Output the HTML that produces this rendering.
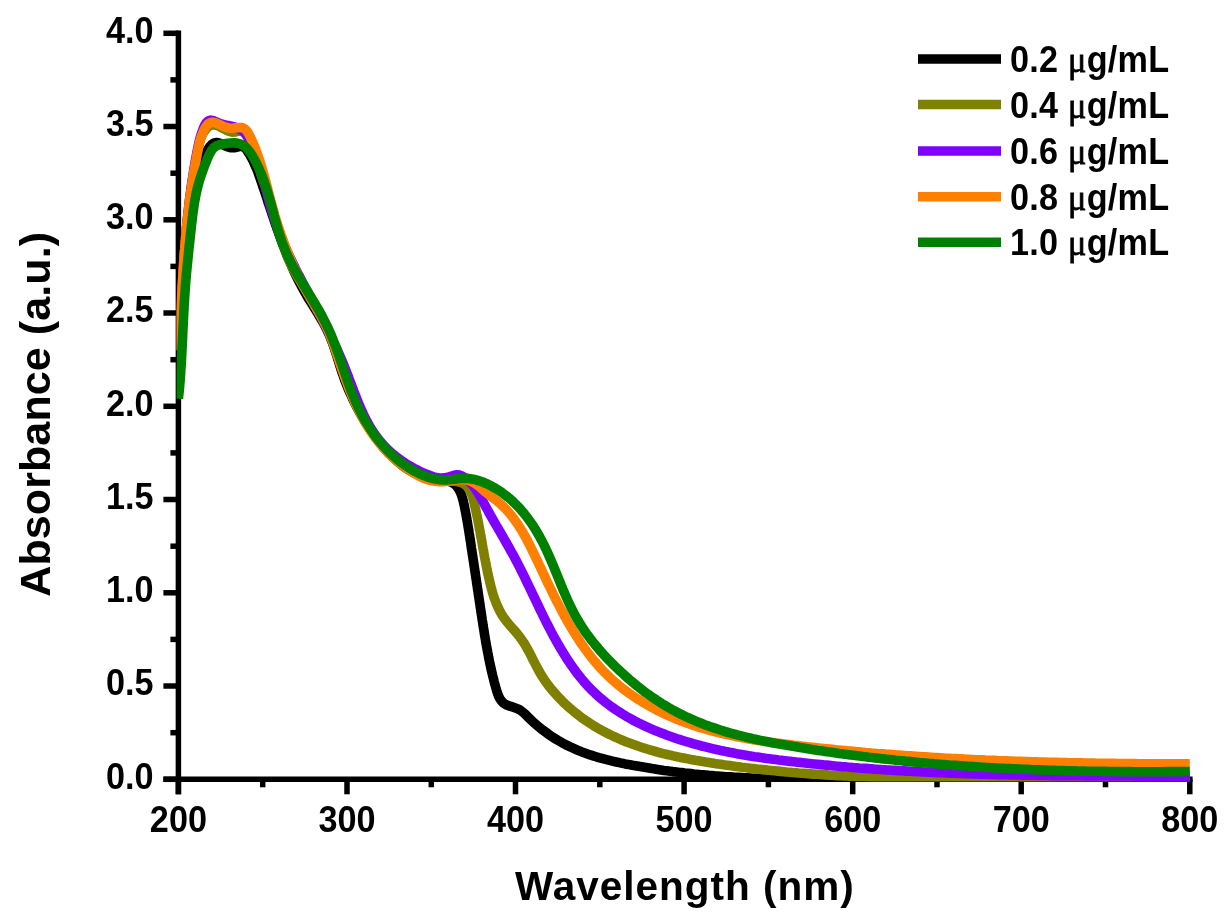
<!DOCTYPE html>
<html><head><meta charset="utf-8"><title>UV-Vis absorbance</title>
<style>html,body{margin:0;padding:0;background:#fff;}svg{display:block;filter:blur(0.55px);}</style></head>
<body>
<svg width="1231" height="922" viewBox="0 0 1231 922">
<defs><clipPath id="cp"><rect x="176.6" y="0" width="1013.4" height="781.4"/></clipPath></defs>
<g stroke="#000" stroke-width="5.5" fill="none" stroke-linecap="butt">
<path d="M178.4,30.5 V794.3"/>
<path d="M163.4,779.3 H1192.6"/>
<path d="M163.4,779.3 H178.4"/>
<path d="M163.4,686.0 H178.4"/>
<path d="M163.4,592.8 H178.4"/>
<path d="M163.4,499.5 H178.4"/>
<path d="M163.4,406.3 H178.4"/>
<path d="M163.4,313.0 H178.4"/>
<path d="M163.4,219.8 H178.4"/>
<path d="M163.4,126.5 H178.4"/>
<path d="M163.4,33.3 H178.4"/>
<path d="M170.4,732.7 H178.4"/>
<path d="M170.4,639.4 H178.4"/>
<path d="M170.4,546.2 H178.4"/>
<path d="M170.4,452.9 H178.4"/>
<path d="M170.4,359.7 H178.4"/>
<path d="M170.4,266.4 H178.4"/>
<path d="M170.4,173.2 H178.4"/>
<path d="M170.4,79.9 H178.4"/>
<path d="M178.4,779.3 V794.3"/>
<path d="M347.0,779.3 V794.3"/>
<path d="M515.5,779.3 V794.3"/>
<path d="M684.1,779.3 V794.3"/>
<path d="M852.7,779.3 V794.3"/>
<path d="M1021.2,779.3 V794.3"/>
<path d="M1189.8,779.3 V794.3"/>
<path d="M262.7,779.3 V787.3"/>
<path d="M431.3,779.3 V787.3"/>
<path d="M599.8,779.3 V787.3"/>
<path d="M768.4,779.3 V787.3"/>
<path d="M937.0,779.3 V787.3"/>
<path d="M1105.5,779.3 V787.3"/>
</g>
<g clip-path="url(#cp)" fill="none" stroke-width="9.6" stroke-linejoin="round" stroke-linecap="butt">
<path stroke="#000000" d="M178.4,369.0L178.5,366.0 178.7,363.0 178.8,360.0 178.9,357.0 179.1,354.0 179.2,351.0 179.3,347.9 179.5,344.9 179.6,341.9 179.8,338.9 180.0,335.9 180.1,332.9 180.3,329.9 180.5,326.9 180.6,323.9 180.8,320.9 181.0,317.9 181.2,314.9 181.4,311.9 181.6,308.9 181.8,305.9 182.0,302.9 182.2,299.9 182.4,296.9 182.6,293.9 182.8,290.9 183.1,287.9 183.3,284.9 183.5,281.9 183.8,279.0 184.0,276.0 184.3,273.0 184.5,270.0 184.8,267.0 185.0,264.0 185.3,261.0 185.6,258.0 185.9,255.0 186.1,252.0 186.4,249.0 186.7,246.0 187.0,243.0 187.3,240.0 187.6,237.0 187.9,234.0 188.3,231.0 188.6,228.0 188.9,225.0 189.3,222.0 189.6,219.0 190.0,216.0 190.4,213.1 190.8,210.1 191.2,207.1 191.7,204.1 192.1,201.2 192.6,198.2 193.2,195.2 193.7,192.3 194.3,189.4 195.0,186.4 195.6,183.5 196.3,180.6 197.1,177.7 197.9,174.8 198.7,171.9 199.6,169.1 200.6,166.2 201.6,163.4 202.6,160.6 203.7,157.8 204.9,155.0 206.3,152.2 207.8,149.5 209.7,146.8 211.8,144.5 214.1,142.9 216.8,142.5 219.6,143.2 222.5,144.5 225.4,146.0 228.3,147.1 231.2,147.8 234.2,147.7 237.3,147.0 240.3,146.3 243.0,146.5 245.2,148.1 247.0,150.4 248.7,153.0 250.3,155.6 251.8,158.3 253.1,161.0 254.4,163.8 255.6,166.5 256.8,169.3 257.9,172.1 258.9,174.9 259.9,177.8 260.9,180.6 261.9,183.5 262.8,186.3 263.8,189.2 264.8,192.0 265.7,194.9 266.7,197.7 267.6,200.6 268.5,203.5 269.5,206.3 270.4,209.2 271.4,212.0 272.3,214.9 273.3,217.7 274.3,220.6 275.2,223.4 276.2,226.3 277.2,229.1 278.2,231.9 279.2,234.8 280.2,237.6 281.3,240.4 282.3,243.2 283.4,246.0 284.5,248.8 285.6,251.6 286.7,254.4 287.8,257.2 289.0,259.9 290.2,262.7 291.4,265.4 292.6,268.2 293.8,270.9 295.1,273.6 296.4,276.3 297.7,279.0 299.1,281.6 300.5,284.3 301.9,286.9 303.3,289.6 304.8,292.2 306.3,294.8 307.8,297.4 309.4,300.0 311.0,302.5 312.6,305.1 314.2,307.7 315.8,310.2 317.4,312.8 318.9,315.4 320.5,318.0 322.0,320.6 323.5,323.2 324.9,325.8 326.3,328.5 327.6,331.2 328.8,333.9 330.0,336.6 331.1,339.4 332.2,342.2 333.2,345.0 334.2,347.8 335.1,350.7 336.1,353.5 337.0,356.4 337.9,359.3 338.8,362.2 339.7,365.1 340.6,367.9 341.5,370.8 342.5,373.7 343.5,376.5 344.5,379.4 345.6,382.2 346.7,385.0 347.8,387.8 349.0,390.6 350.2,393.3 351.5,396.1 352.7,398.8 354.0,401.6 355.4,404.3 356.8,406.9 358.2,409.6 359.6,412.3 361.1,414.9 362.6,417.5 364.1,420.1 365.7,422.6 367.4,425.2 369.0,427.7 370.7,430.2 372.4,432.6 374.2,435.1 376.0,437.5 377.8,439.9 379.7,442.2 381.5,444.5 383.5,446.8 385.5,449.1 387.5,451.4 389.5,453.6 391.6,455.7 393.7,457.8 395.9,459.9 398.1,461.9 400.4,463.8 402.7,465.6 405.1,467.4 407.5,469.0 410.0,470.6 412.6,472.0 415.3,473.4 418.0,474.5 420.8,475.6 423.7,476.5 426.7,477.3 429.8,477.9 432.9,478.4 436.1,478.8 439.2,479.2 442.3,479.6 445.3,480.2 448.1,480.9 450.7,481.9 453.1,483.2 455.3,484.8 457.1,486.7 458.7,489.0 460.1,491.6 461.2,494.3 462.2,497.3 463.1,500.4 463.8,503.5 464.5,506.6 465.1,509.8 465.7,512.9 466.3,515.9 466.8,518.9 467.3,521.8 467.8,524.8 468.3,527.7 468.8,530.6 469.2,533.5 469.7,536.4 470.1,539.3 470.6,542.2 471.0,545.1 471.4,548.0 471.9,550.9 472.3,553.9 472.8,556.8 473.2,559.8 473.7,562.8 474.1,565.8 474.6,568.8 475.0,571.8 475.5,574.8 475.9,577.8 476.4,580.8 476.8,583.8 477.3,586.8 477.7,589.8 478.2,592.8 478.6,595.8 479.1,598.8 479.5,601.8 480.0,604.8 480.4,607.8 480.9,610.8 481.3,613.8 481.8,616.8 482.2,619.7 482.7,622.7 483.1,625.6 483.6,628.5 484.1,631.5 484.5,634.4 485.0,637.3 485.5,640.2 486.0,643.1 486.5,646.0 487.1,649.0 487.6,651.9 488.2,654.8 488.7,657.7 489.3,660.6 489.9,663.6 490.6,666.5 491.2,669.5 491.9,672.4 492.6,675.4 493.4,678.4 494.1,681.4 494.9,684.4 495.8,687.5 496.6,690.5 497.6,693.5 498.7,696.4 500.1,699.0 501.7,701.3 503.7,703.2 506.1,704.7 508.8,705.8 511.7,706.7 514.7,707.7 517.5,708.7 520.1,710.1 522.5,711.8 524.7,713.8 526.8,715.8 529.0,718.0 531.1,720.0 533.3,722.1 535.6,724.1 537.9,726.1 540.2,728.0 542.6,729.9 545.0,731.7 547.5,733.5 549.9,735.3 552.5,737.0 555.0,738.6 557.6,740.2 560.2,741.7 562.8,743.2 565.5,744.6 568.2,745.9 570.9,747.2 573.6,748.4 576.3,749.6 579.1,750.8 581.9,751.9 584.7,752.9 587.5,753.9 590.3,754.9 593.2,755.8 596.0,756.7 598.9,757.6 601.8,758.4 604.7,759.2 607.6,759.9 610.5,760.6 613.4,761.3 616.4,762.0 619.3,762.6 622.3,763.3 625.2,763.9 628.2,764.4 631.2,765.0 634.1,765.6 637.1,766.1 640.1,766.6 643.0,767.1 646.0,767.6 649.0,768.1 651.9,768.6 654.9,769.0 657.9,769.5 660.9,769.9 663.9,770.4 666.8,770.8 669.8,771.2 672.8,771.6 675.8,771.9 678.8,772.3 681.7,772.6 684.7,773.0 687.7,773.3 690.7,773.6 693.7,774.0 696.7,774.3 699.7,774.6 702.7,774.8 705.6,775.1 708.6,775.4 711.6,775.6 714.6,775.9 717.6,776.1 720.6,776.3 723.6,776.5 726.6,776.7 729.6,776.9 732.6,777.1 735.6,777.3 738.6,777.4 741.6,777.6 744.6,777.8 747.6,777.9 750.6,778.0 753.6,778.2 756.6,778.3 759.6,778.4 762.6,778.5 765.6,778.6 768.6,778.7 771.6,778.8 774.6,778.8 777.7,778.9 780.7,779.0 783.7,779.0 786.7,779.1 789.7,779.1 792.7,779.1 795.7,779.2 798.7,779.2 801.7,779.2 804.8,779.2 807.8,779.2 810.8,779.2 813.8,779.2 816.8,779.2 819.8,779.2 822.8,779.2 825.9,779.1 828.9,779.1 831.9,779.1 834.9,779.0 837.9,779.0 840.9,778.9 844.0,778.9 847.0,778.8 850.0,778.8 853.0,778.7 856.0,778.6 859.1,778.5 862.1,778.5 865.1,778.4 868.1,778.3 871.1,778.2 874.2,778.1 877.2,778.1 880.2,778.0 883.2,777.9 886.2,777.8 889.3,777.7 892.3,777.6 895.3,777.5 898.3,777.4 901.3,777.3 904.4,777.1 907.4,777.0 910.4,776.9 913.4,776.8 916.4,776.7 919.5,776.6 922.5,776.5 925.5,776.4 928.5,776.2 931.6,776.1 934.6,776.0 937.6,775.9 940.6,775.8 943.6,775.7 946.7,775.5 949.7,775.4 952.7,775.3 955.7,775.2 958.7,775.1 961.8,775.0 964.8,774.9 967.8,774.8 970.8,774.7 973.8,774.5 976.9,774.4 979.9,774.3 982.9,774.2 985.9,774.1 988.9,774.0 991.9,773.9 995.0,773.9 998.0,773.8 1001.0,773.7 1004.0,773.6 1007.0,773.5 1010.0,773.4 1013.1,773.4 1016.1,773.3 1019.1,773.2 1022.1,773.2 1025.1,773.1 1028.1,773.0 1031.1,773.0 1034.2,772.9 1037.2,772.9 1040.2,772.8 1043.2,772.8 1046.2,772.8 1049.2,772.8 1052.2,772.7 1055.2,772.7 1058.2,772.7 1061.2,772.7 1064.2,772.7 1067.3,772.7 1070.3,772.7 1073.3,772.7 1076.3,772.8 1079.3,772.8 1082.3,772.8 1085.3,772.9 1088.3,772.9 1091.3,773.0 1094.3,773.0 1097.3,773.1 1100.3,773.2 1103.3,773.2 1106.3,773.3 1109.3,773.4 1112.3,773.5 1115.3,773.6 1118.3,773.8 1121.2,773.9 1124.2,774.0 1127.2,774.2 1130.2,774.3 1133.2,774.5 1136.2,774.7 1139.2,774.8 1142.2,775.0 1145.2,775.2 1148.1,775.4 1151.1,775.6 1154.1,775.9 1157.1,776.1 1160.1,776.3 1163.0,776.6 1166.0,776.8 1169.0,777.1 1172.0,777.4 1175.0,777.7 1177.9,778.0 1180.9,778.3 1183.9,778.6 1186.8,779.0 1189.8,779.3"/>
<path stroke="#808000" d="M178.4,350.3L178.6,347.4 178.8,344.4 179.0,341.4 179.2,338.4 179.4,335.3 179.6,332.3 179.8,329.3 180.0,326.3 180.2,323.3 180.3,320.3 180.5,317.3 180.7,314.3 180.9,311.3 181.0,308.3 181.2,305.3 181.4,302.3 181.5,299.3 181.7,296.3 181.9,293.3 182.1,290.3 182.2,287.3 182.4,284.3 182.6,281.2 182.8,278.2 182.9,275.2 183.1,272.2 183.3,269.2 183.5,266.2 183.7,263.2 183.9,260.2 184.1,257.2 184.3,254.2 184.5,251.2 184.8,248.2 185.0,245.2 185.2,242.2 185.5,239.2 185.8,236.2 186.0,233.2 186.3,230.2 186.6,227.2 186.9,224.2 187.2,221.2 187.5,218.2 187.8,215.2 188.1,212.2 188.5,209.3 188.8,206.3 189.2,203.3 189.6,200.3 190.0,197.3 190.4,194.3 190.8,191.4 191.2,188.4 191.7,185.4 192.1,182.4 192.6,179.5 193.1,176.5 193.6,173.5 194.1,170.6 194.6,167.6 195.1,164.6 195.7,161.7 196.2,158.7 196.8,155.7 197.4,152.8 197.9,149.8 198.5,146.9 199.2,143.9 199.9,141.0 200.9,138.1 202.1,135.2 203.6,132.5 205.4,129.8 207.5,127.5 209.8,125.7 212.3,124.8 214.9,124.9 217.6,125.7 220.4,127.0 223.2,128.6 226.1,130.1 229.1,131.4 232.1,132.1 235.1,132.0 238.1,131.2 241.0,130.6 243.6,130.9 245.9,132.3 247.9,134.6 249.6,137.2 251.1,140.0 252.5,142.9 253.6,145.7 254.6,148.6 255.5,151.5 256.2,154.4 256.9,157.4 257.6,160.3 258.2,163.2 258.9,166.1 259.6,169.0 260.4,171.9 261.2,174.8 262.1,177.6 263.1,180.5 264.1,183.3 265.1,186.1 266.0,189.0 267.0,191.8 267.9,194.7 268.8,197.6 269.7,200.5 270.6,203.3 271.5,206.2 272.3,209.1 273.2,212.0 274.0,215.0 274.8,217.9 275.7,220.8 276.5,223.7 277.3,226.6 278.2,229.5 279.1,232.4 280.0,235.3 280.9,238.1 281.8,241.0 282.8,243.8 283.7,246.7 284.8,249.5 285.8,252.3 286.9,255.1 288.0,257.9 289.2,260.6 290.5,263.3 291.7,266.0 293.1,268.7 294.5,271.4 295.9,274.0 297.4,276.6 299.0,279.2 300.6,281.7 302.2,284.3 303.9,286.8 305.5,289.3 307.2,291.9 308.9,294.4 310.5,296.9 312.2,299.5 313.8,302.0 315.4,304.6 316.9,307.2 318.4,309.8 319.9,312.4 321.3,315.1 322.6,317.8 323.9,320.5 325.1,323.3 326.3,326.1 327.4,328.8 328.5,331.6 329.6,334.5 330.7,337.3 331.7,340.1 332.8,342.9 333.8,345.8 334.8,348.6 335.8,351.5 336.8,354.3 337.8,357.1 338.8,360.0 339.8,362.8 340.8,365.6 341.8,368.5 342.8,371.3 343.9,374.1 344.9,376.9 345.9,379.7 347.0,382.5 348.1,385.3 349.2,388.1 350.3,390.8 351.5,393.6 352.7,396.3 353.9,399.1 355.1,401.8 356.3,404.5 357.6,407.2 359.0,409.9 360.3,412.6 361.7,415.2 363.1,417.9 364.6,420.5 366.1,423.1 367.7,425.7 369.3,428.3 370.9,430.9 372.6,433.4 374.4,436.0 376.2,438.5 378.0,440.9 379.9,443.4 381.8,445.8 383.8,448.1 385.9,450.4 387.9,452.7 390.1,454.8 392.2,457.0 394.5,459.0 396.7,461.0 399.0,463.0 401.4,464.8 403.8,466.6 406.2,468.2 408.7,469.8 411.2,471.3 413.8,472.7 416.4,474.0 419.1,475.2 421.8,476.2 424.5,477.2 427.3,478.0 430.1,478.7 433.0,479.3 435.9,479.8 438.9,480.2 442.0,480.5 445.1,480.7 448.4,480.9 451.7,481.1 454.9,481.3 458.0,481.8 460.9,482.5 463.5,483.6 465.7,485.2 467.6,487.1 469.2,489.3 470.5,491.8 471.7,494.5 472.7,497.4 473.6,500.4 474.3,503.5 475.0,506.6 475.7,509.7 476.3,512.8 477.0,515.8 477.6,518.8 478.2,521.8 478.7,524.8 479.3,527.8 479.9,530.8 480.4,533.7 480.9,536.7 481.5,539.6 482.0,542.5 482.5,545.5 483.0,548.4 483.6,551.3 484.1,554.2 484.6,557.1 485.2,560.0 485.8,563.0 486.3,565.9 486.9,568.8 487.5,571.7 488.1,574.7 488.8,577.6 489.5,580.6 490.2,583.6 490.9,586.5 491.7,589.5 492.5,592.4 493.4,595.4 494.3,598.3 495.4,601.1 496.5,603.9 497.7,606.7 499.0,609.4 500.3,612.1 501.9,614.7 503.5,617.2 505.2,619.6 507.1,622.0 509.0,624.3 511.0,626.6 513.0,628.9 515.0,631.1 516.9,633.4 518.8,635.7 520.6,638.1 522.3,640.5 524.0,643.0 525.5,645.5 527.0,648.1 528.4,650.7 529.8,653.3 531.2,656.0 532.5,658.7 533.9,661.4 535.3,664.0 536.7,666.7 538.1,669.4 539.6,672.1 541.1,674.7 542.8,677.3 544.5,679.9 546.3,682.5 548.1,685.0 550.0,687.5 552.0,689.9 554.0,692.3 556.1,694.6 558.2,696.9 560.4,699.1 562.5,701.3 564.7,703.5 566.9,705.5 569.2,707.6 571.5,709.5 573.8,711.5 576.1,713.4 578.5,715.2 580.8,717.0 583.2,718.8 585.7,720.5 588.1,722.1 590.6,723.7 593.1,725.3 595.6,726.8 598.2,728.3 600.7,729.8 603.3,731.2 605.9,732.6 608.5,733.9 611.2,735.2 613.8,736.5 616.5,737.7 619.2,738.9 621.9,740.0 624.6,741.2 627.4,742.3 630.2,743.3 632.9,744.3 635.7,745.3 638.5,746.3 641.3,747.2 644.2,748.2 647.0,749.0 649.9,749.9 652.7,750.7 655.6,751.5 658.5,752.3 661.4,753.1 664.3,753.8 667.2,754.5 670.2,755.2 673.1,755.9 676.0,756.5 679.0,757.1 682.0,757.8 684.9,758.3 687.9,758.9 690.9,759.5 693.8,760.0 696.8,760.6 699.8,761.1 702.8,761.6 705.8,762.1 708.8,762.5 711.8,763.0 714.8,763.5 717.8,763.9 720.8,764.3 723.8,764.8 726.8,765.2 729.8,765.6 732.8,766.0 735.8,766.4 738.8,766.8 741.8,767.2 744.8,767.5 747.8,767.9 750.8,768.3 753.8,768.6 756.8,769.0 759.8,769.3 762.8,769.6 765.8,769.9 768.8,770.2 771.8,770.5 774.8,770.8 777.8,771.1 780.8,771.4 783.8,771.7 786.8,772.0 789.8,772.2 792.8,772.5 795.8,772.7 798.8,773.0 801.8,773.2 804.8,773.4 807.8,773.7 810.8,773.9 813.8,774.1 816.8,774.3 819.8,774.5 822.8,774.7 825.8,774.9 828.8,775.1 831.8,775.2 834.8,775.4 837.8,775.6 840.8,775.7 843.8,775.9 846.8,776.0 849.8,776.2 852.8,776.3 855.8,776.5 858.8,776.6 861.8,776.7 864.8,776.8 867.8,776.9 870.8,777.1 873.8,777.2 876.8,777.3 879.8,777.4 882.8,777.5 885.9,777.5 888.9,777.6 891.9,777.7 894.9,777.8 897.9,777.9 900.9,777.9 903.9,778.0 906.9,778.1 909.9,778.1 912.9,778.2 915.9,778.2 918.9,778.3 921.9,778.3 924.9,778.4 927.9,778.4 930.9,778.4 933.9,778.5 936.9,778.5 939.9,778.5 942.9,778.6 946.0,778.6 949.0,778.6 952.0,778.6 955.0,778.6 958.0,778.7 961.0,778.7 964.0,778.7 967.0,778.7 970.0,778.7 973.0,778.7 976.0,778.7 979.0,778.7 982.0,778.7 985.0,778.7 988.0,778.7 991.1,778.7 994.1,778.7 997.1,778.7 1000.1,778.7 1003.1,778.6 1006.1,778.6 1009.1,778.6 1012.1,778.6 1015.1,778.6 1018.1,778.6 1021.1,778.6 1024.1,778.5 1027.2,778.5 1030.2,778.5 1033.2,778.5 1036.2,778.5 1039.2,778.5 1042.2,778.4 1045.2,778.4 1048.2,778.4 1051.2,778.4 1054.2,778.4 1057.3,778.4 1060.3,778.4 1063.3,778.3 1066.3,778.3 1069.3,778.3 1072.3,778.3 1075.3,778.3 1078.3,778.3 1081.3,778.3 1084.3,778.3 1087.4,778.3 1090.4,778.2 1093.4,778.2 1096.4,778.2 1099.4,778.2 1102.4,778.2 1105.4,778.2 1108.4,778.2 1111.5,778.2 1114.5,778.3 1117.5,778.3 1120.5,778.3 1123.5,778.3 1126.5,778.3 1129.5,778.3 1132.5,778.3 1135.6,778.4 1138.6,778.4 1141.6,778.4 1144.6,778.5 1147.6,778.5 1150.6,778.5 1153.6,778.6 1156.7,778.6 1159.7,778.7 1162.7,778.7 1165.7,778.8 1168.7,778.8 1171.7,778.9 1174.7,778.9 1177.8,779.0 1180.8,779.1 1183.8,779.1 1186.8,779.2 1189.8,779.3"/>
<path stroke="#8000FF" d="M178.4,346.6L178.6,343.6 178.8,340.6 179.1,337.6 179.3,334.6 179.5,331.6 179.7,328.6 179.9,325.6 180.1,322.6 180.3,319.6 180.4,316.6 180.6,313.6 180.8,310.6 181.0,307.6 181.2,304.6 181.4,301.6 181.5,298.6 181.7,295.6 181.9,292.6 182.1,289.6 182.3,286.6 182.5,283.6 182.6,280.6 182.8,277.6 183.0,274.6 183.2,271.6 183.4,268.6 183.6,265.6 183.8,262.6 184.0,259.6 184.2,256.6 184.4,253.6 184.7,250.7 184.9,247.7 185.1,244.7 185.4,241.7 185.6,238.7 185.8,235.7 186.1,232.7 186.4,229.7 186.6,226.7 186.9,223.7 187.2,220.7 187.5,217.7 187.8,214.7 188.1,211.7 188.5,208.7 188.8,205.7 189.2,202.7 189.5,199.7 189.9,196.7 190.3,193.7 190.7,190.7 191.1,187.7 191.5,184.7 191.9,181.7 192.4,178.7 192.9,175.8 193.3,172.8 193.8,169.8 194.3,166.8 194.8,163.9 195.3,161.0 195.8,158.1 196.4,155.2 196.9,152.3 197.5,149.4 198.1,146.6 198.7,143.8 199.3,140.9 200.1,137.9 201.0,134.9 202.1,131.7 203.3,128.4 204.7,125.3 206.4,122.6 208.4,120.8 210.7,120.1 213.4,120.7 216.3,121.9 219.3,123.2 222.2,124.2 225.1,124.9 228.0,125.5 231.0,126.1 234.0,126.9 236.9,127.9 239.7,129.2 242.2,130.8 244.4,132.8 246.2,135.2 247.8,137.7 249.3,140.3 250.7,143.0 252.0,145.8 253.2,148.5 254.4,151.3 255.5,154.1 256.5,156.9 257.6,159.7 258.5,162.6 259.4,165.4 260.3,168.3 261.2,171.2 262.0,174.1 262.8,177.0 263.6,180.0 264.3,182.9 265.1,185.8 265.8,188.8 266.6,191.7 267.3,194.6 268.1,197.5 268.9,200.5 269.6,203.4 270.4,206.3 271.3,209.2 272.1,212.1 273.0,214.9 273.9,217.8 274.9,220.6 275.9,223.4 276.9,226.2 277.9,229.0 279.0,231.8 280.1,234.6 281.2,237.4 282.3,240.1 283.5,242.9 284.7,245.6 285.9,248.3 287.1,251.1 288.3,253.8 289.6,256.5 290.9,259.2 292.2,261.9 293.5,264.5 294.8,267.2 296.1,269.9 297.5,272.6 298.9,275.2 300.2,277.9 301.6,280.5 303.0,283.2 304.4,285.8 305.8,288.5 307.2,291.1 308.6,293.8 310.0,296.4 311.4,299.1 312.8,301.7 314.2,304.4 315.6,307.0 317.1,309.7 318.5,312.3 319.9,315.0 321.3,317.6 322.6,320.3 324.0,323.0 325.4,325.6 326.8,328.3 328.1,331.0 329.5,333.7 330.8,336.4 332.1,339.1 333.4,341.8 334.7,344.5 336.0,347.2 337.3,349.9 338.5,352.7 339.7,355.4 340.9,358.2 342.1,361.0 343.3,363.7 344.4,366.5 345.5,369.4 346.6,372.2 347.7,375.0 348.8,377.8 349.8,380.6 350.9,383.5 352.0,386.3 353.0,389.1 354.1,391.9 355.2,394.8 356.3,397.6 357.4,400.3 358.5,403.1 359.7,405.9 360.9,408.6 362.1,411.3 363.3,414.0 364.6,416.7 366.0,419.4 367.3,422.0 368.8,424.6 370.3,427.1 371.8,429.7 373.4,432.2 375.1,434.6 376.8,437.0 378.6,439.4 380.5,441.7 382.5,444.0 384.5,446.2 386.7,448.4 388.9,450.5 391.2,452.6 393.5,454.6 396.0,456.6 398.5,458.4 401.0,460.3 403.6,462.1 406.2,463.8 408.9,465.4 411.6,467.0 414.3,468.5 417.1,469.9 419.8,471.2 422.6,472.5 425.3,473.7 428.1,474.8 430.8,475.9 433.6,476.8 436.3,477.5 439.1,478.0 442.0,478.1 444.9,477.9 447.9,477.2 451.0,476.2 454.0,475.3 457.0,474.8 459.8,475.1 462.5,476.2 465.0,477.8 467.3,479.7 469.5,481.8 471.6,484.0 473.5,486.3 475.3,488.7 477.0,491.2 478.6,493.8 480.2,496.5 481.7,499.2 483.2,501.9 484.6,504.6 486.1,507.3 487.6,510.0 489.0,512.6 490.5,515.3 492.0,517.9 493.4,520.5 494.9,523.1 496.4,525.6 497.9,528.2 499.4,530.7 500.8,533.3 502.3,535.8 503.8,538.4 505.2,540.9 506.7,543.5 508.2,546.0 509.6,548.6 511.0,551.2 512.5,553.7 513.9,556.3 515.3,559.0 516.7,561.6 518.0,564.2 519.4,566.9 520.8,569.6 522.1,572.3 523.5,575.0 524.8,577.7 526.1,580.4 527.4,583.2 528.8,585.9 530.1,588.7 531.4,591.4 532.7,594.2 534.0,596.9 535.4,599.7 536.7,602.5 538.0,605.2 539.3,608.0 540.7,610.8 542.0,613.5 543.4,616.3 544.7,619.0 546.1,621.8 547.5,624.5 548.9,627.2 550.3,629.9 551.7,632.6 553.1,635.3 554.6,638.0 556.1,640.7 557.6,643.3 559.1,645.9 560.6,648.5 562.2,651.1 563.7,653.7 565.3,656.2 566.9,658.8 568.6,661.3 570.3,663.7 572.0,666.2 573.7,668.6 575.5,671.0 577.2,673.4 579.1,675.7 580.9,678.0 582.8,680.3 584.7,682.5 586.7,684.7 588.7,686.9 590.7,689.0 592.8,691.1 594.9,693.1 597.1,695.1 599.3,697.1 601.5,699.0 603.8,700.9 606.1,702.7 608.5,704.5 610.9,706.3 613.3,708.0 615.7,709.7 618.2,711.3 620.7,712.9 623.3,714.5 625.9,716.1 628.5,717.6 631.1,719.0 633.7,720.5 636.4,721.9 639.1,723.2 641.8,724.6 644.6,725.9 647.3,727.1 650.1,728.4 652.9,729.6 655.7,730.8 658.5,731.9 661.3,733.0 664.2,734.1 667.0,735.2 669.9,736.2 672.8,737.2 675.6,738.2 678.5,739.2 681.4,740.1 684.3,741.0 687.2,741.9 690.1,742.7 693.0,743.6 695.9,744.4 698.8,745.2 701.7,746.0 704.6,746.7 707.5,747.4 710.4,748.1 713.4,748.8 716.3,749.5 719.2,750.1 722.2,750.8 725.1,751.4 728.1,752.0 731.0,752.6 734.0,753.1 736.9,753.7 739.9,754.2 742.8,754.7 745.8,755.2 748.7,755.7 751.7,756.2 754.7,756.7 757.6,757.1 760.6,757.6 763.6,758.0 766.6,758.4 769.5,758.8 772.5,759.2 775.5,759.6 778.5,760.0 781.5,760.3 784.4,760.7 787.4,761.1 790.4,761.4 793.4,761.7 796.4,762.1 799.4,762.4 802.4,762.7 805.3,763.0 808.3,763.4 811.3,763.7 814.3,764.0 817.3,764.3 820.3,764.6 823.3,764.9 826.3,765.1 829.3,765.4 832.3,765.7 835.2,766.0 838.2,766.2 841.2,766.5 844.2,766.7 847.2,767.0 850.2,767.2 853.2,767.5 856.2,767.7 859.2,768.0 862.2,768.2 865.2,768.4 868.2,768.6 871.2,768.8 874.2,769.1 877.2,769.3 880.2,769.5 883.2,769.7 886.2,769.9 889.2,770.0 892.2,770.2 895.2,770.4 898.2,770.6 901.2,770.8 904.2,770.9 907.2,771.1 910.2,771.3 913.2,771.4 916.2,771.6 919.2,771.7 922.2,771.9 925.2,772.0 928.2,772.2 931.2,772.3 934.2,772.5 937.2,772.6 940.2,772.7 943.2,772.8 946.2,773.0 949.2,773.1 952.2,773.2 955.3,773.3 958.3,773.4 961.3,773.5 964.3,773.6 967.3,773.7 970.3,773.8 973.3,773.9 976.3,774.0 979.3,774.1 982.3,774.2 985.3,774.3 988.3,774.4 991.3,774.4 994.3,774.5 997.4,774.6 1000.4,774.7 1003.4,774.7 1006.4,774.8 1009.4,774.9 1012.4,774.9 1015.4,775.0 1018.4,775.0 1021.4,775.1 1024.4,775.2 1027.4,775.2 1030.4,775.3 1033.5,775.3 1036.5,775.4 1039.5,775.4 1042.5,775.4 1045.5,775.5 1048.5,775.5 1051.5,775.6 1054.5,775.6 1057.5,775.6 1060.5,775.7 1063.5,775.7 1066.6,775.7 1069.6,775.7 1072.6,775.8 1075.6,775.8 1078.6,775.8 1081.6,775.8 1084.6,775.9 1087.6,775.9 1090.6,775.9 1093.6,775.9 1096.6,775.9 1099.6,775.9 1102.7,776.0 1105.7,776.0 1108.7,776.0 1111.7,776.0 1114.7,776.0 1117.7,776.0 1120.7,776.0 1123.7,776.0 1126.7,776.0 1129.7,776.0 1132.7,776.1 1135.7,776.1 1138.7,776.1 1141.8,776.1 1144.8,776.1 1147.8,776.1 1150.8,776.1 1153.8,776.1 1156.8,776.1 1159.8,776.1 1162.8,776.1 1165.8,776.1 1168.8,776.1 1171.8,776.1 1174.8,776.1 1177.8,776.1 1180.8,776.1 1183.8,776.1 1186.8,776.1 1189.8,776.1"/>
<path stroke="#FF8000" d="M178.4,350.4L178.6,347.4 178.8,344.4 179.0,341.4 179.2,338.3 179.4,335.3 179.6,332.3 179.8,329.3 180.0,326.3 180.2,323.3 180.3,320.3 180.5,317.3 180.7,314.3 180.9,311.3 181.0,308.3 181.2,305.3 181.4,302.3 181.5,299.3 181.7,296.3 181.9,293.3 182.0,290.3 182.2,287.3 182.4,284.3 182.6,281.3 182.7,278.3 182.9,275.3 183.1,272.3 183.3,269.3 183.5,266.3 183.7,263.3 183.9,260.3 184.1,257.4 184.3,254.4 184.5,251.4 184.8,248.4 185.0,245.4 185.2,242.4 185.5,239.4 185.7,236.4 186.0,233.4 186.3,230.4 186.6,227.4 186.8,224.4 187.1,221.4 187.5,218.4 187.8,215.4 188.1,212.5 188.5,209.5 188.8,206.5 189.2,203.5 189.5,200.5 189.9,197.5 190.3,194.5 190.8,191.6 191.2,188.6 191.6,185.6 192.1,182.6 192.6,179.6 193.0,176.7 193.5,173.7 194.0,170.7 194.6,167.8 195.1,164.8 195.6,161.9 196.2,158.9 196.7,156.0 197.3,153.1 197.9,150.2 198.5,147.3 199.1,144.4 199.8,141.5 200.7,138.5 201.7,135.6 202.9,132.6 204.3,129.5 205.9,126.7 207.8,124.3 210.0,122.8 212.5,122.2 215.2,122.7 218.0,123.8 220.8,125.1 223.6,126.4 226.5,127.5 229.5,128.2 232.7,128.2 235.9,127.8 239.1,127.5 241.9,127.6 244.3,128.5 246.3,130.3 248.0,132.6 249.5,135.4 250.9,138.2 252.2,141.0 253.4,143.8 254.6,146.7 255.7,149.5 256.8,152.4 257.8,155.2 258.8,158.1 259.8,161.0 260.7,163.8 261.6,166.7 262.5,169.6 263.3,172.5 264.1,175.4 264.9,178.3 265.7,181.1 266.4,184.0 267.2,186.9 267.9,189.8 268.7,192.7 269.4,195.6 270.2,198.5 270.9,201.4 271.7,204.3 272.5,207.2 273.3,210.0 274.1,212.9 274.9,215.8 275.8,218.7 276.7,221.5 277.6,224.4 278.5,227.3 279.5,230.1 280.5,232.9 281.4,235.8 282.5,238.6 283.5,241.4 284.5,244.3 285.6,247.1 286.7,249.9 287.8,252.7 289.0,255.5 290.2,258.2 291.4,261.0 292.6,263.8 293.8,266.5 295.1,269.2 296.4,272.0 297.7,274.7 299.0,277.4 300.4,280.1 301.7,282.7 303.1,285.4 304.6,288.1 306.0,290.7 307.5,293.3 309.0,295.9 310.5,298.5 312.0,301.1 313.6,303.7 315.1,306.3 316.6,308.9 318.1,311.5 319.6,314.1 321.1,316.7 322.5,319.3 323.9,321.9 325.3,324.6 326.6,327.2 327.9,329.9 329.1,332.6 330.2,335.4 331.4,338.1 332.4,340.9 333.5,343.7 334.5,346.5 335.5,349.3 336.4,352.2 337.4,355.0 338.3,357.9 339.2,360.7 340.2,363.6 341.1,366.5 342.1,369.3 343.1,372.2 344.1,375.1 345.1,377.9 346.1,380.8 347.2,383.6 348.2,386.5 349.4,389.3 350.5,392.1 351.7,394.9 352.8,397.7 354.1,400.5 355.3,403.3 356.6,406.0 357.9,408.7 359.3,411.4 360.6,414.1 362.1,416.8 363.5,419.4 365.0,422.0 366.5,424.6 368.1,427.1 369.7,429.6 371.4,432.1 373.1,434.6 374.8,437.0 376.6,439.4 378.4,441.7 380.3,444.0 382.2,446.3 384.2,448.5 386.2,450.7 388.3,452.8 390.4,454.9 392.6,456.9 394.8,458.9 397.1,460.9 399.4,462.8 401.8,464.7 404.2,466.5 406.7,468.3 409.2,470.1 411.7,471.8 414.4,473.5 417.0,475.0 419.7,476.4 422.4,477.7 425.2,478.8 428.1,479.8 431.0,480.5 433.9,481.0 436.8,481.4 439.8,481.6 442.8,481.6 445.9,481.4 448.9,481.0 452.0,480.6 455.1,480.1 458.1,479.7 461.1,479.5 464.1,479.6 467.0,480.0 469.8,480.8 472.5,482.0 475.1,483.5 477.5,485.2 479.9,487.1 482.2,489.1 484.4,491.1 486.8,493.1 489.2,495.0 491.6,496.8 494.1,498.7 496.5,500.6 498.8,502.5 501.1,504.5 503.2,506.5 505.3,508.6 507.3,510.8 509.3,513.0 511.2,515.3 513.0,517.6 514.7,520.0 516.4,522.4 518.1,524.8 519.7,527.3 521.3,529.8 522.8,532.3 524.2,534.9 525.7,537.5 527.1,540.1 528.5,542.8 529.8,545.4 531.2,548.1 532.5,550.8 533.8,553.5 535.1,556.3 536.4,559.0 537.7,561.7 539.0,564.5 540.3,567.2 541.6,569.9 542.9,572.7 544.2,575.4 545.5,578.2 546.8,580.9 548.1,583.7 549.4,586.4 550.8,589.1 552.1,591.9 553.4,594.6 554.8,597.3 556.1,600.0 557.5,602.7 558.9,605.4 560.3,608.1 561.7,610.8 563.1,613.4 564.6,616.1 566.0,618.7 567.5,621.3 569.0,623.9 570.5,626.5 572.0,629.1 573.6,631.7 575.2,634.2 576.8,636.7 578.4,639.2 580.0,641.7 581.7,644.2 583.4,646.6 585.1,649.1 586.9,651.4 588.7,653.8 590.5,656.2 592.3,658.5 594.2,660.8 596.1,663.0 598.0,665.3 600.0,667.5 602.0,669.7 604.1,671.8 606.2,673.9 608.3,676.0 610.4,678.0 612.6,680.1 614.9,682.0 617.1,684.0 619.4,685.9 621.8,687.8 624.2,689.6 626.6,691.4 629.0,693.2 631.5,694.9 634.0,696.6 636.5,698.3 639.1,699.9 641.6,701.5 644.2,703.1 646.9,704.6 649.5,706.1 652.2,707.6 654.8,709.0 657.5,710.4 660.3,711.8 663.0,713.1 665.7,714.4 668.5,715.7 671.3,716.9 674.1,718.1 676.8,719.2 679.6,720.4 682.5,721.4 685.3,722.5 688.1,723.5 690.9,724.5 693.8,725.5 696.6,726.4 699.5,727.3 702.4,728.2 705.2,729.0 708.1,729.8 711.0,730.6 713.9,731.4 716.8,732.1 719.7,732.9 722.6,733.6 725.5,734.2 728.4,734.9 731.4,735.5 734.3,736.1 737.2,736.7 740.2,737.3 743.1,737.8 746.1,738.4 749.0,738.9 752.0,739.4 754.9,739.9 757.9,740.4 760.9,740.8 763.8,741.3 766.8,741.7 769.8,742.1 772.8,742.5 775.8,742.9 778.7,743.3 781.7,743.7 784.7,744.1 787.7,744.4 790.7,744.8 793.7,745.2 796.7,745.5 799.6,745.9 802.6,746.2 805.6,746.5 808.6,746.9 811.6,747.2 814.6,747.5 817.6,747.9 820.6,748.2 823.6,748.5 826.6,748.8 829.5,749.1 832.5,749.4 835.5,749.7 838.5,750.0 841.5,750.3 844.5,750.6 847.5,750.9 850.5,751.1 853.5,751.4 856.5,751.7 859.5,751.9 862.5,752.2 865.5,752.5 868.5,752.7 871.5,753.0 874.5,753.2 877.4,753.5 880.4,753.7 883.4,753.9 886.4,754.2 889.4,754.4 892.4,754.6 895.4,754.9 898.4,755.1 901.4,755.3 904.4,755.5 907.4,755.7 910.4,755.9 913.4,756.1 916.4,756.3 919.4,756.5 922.4,756.7 925.4,756.9 928.4,757.1 931.4,757.3 934.4,757.5 937.4,757.6 940.4,757.8 943.4,758.0 946.4,758.2 949.4,758.3 952.4,758.5 955.4,758.6 958.4,758.8 961.4,758.9 964.4,759.1 967.4,759.2 970.4,759.4 973.4,759.5 976.4,759.7 979.4,759.8 982.4,759.9 985.4,760.1 988.5,760.2 991.5,760.3 994.5,760.4 997.5,760.6 1000.5,760.7 1003.5,760.8 1006.5,760.9 1009.5,761.0 1012.5,761.1 1015.5,761.2 1018.5,761.3 1021.5,761.4 1024.5,761.5 1027.5,761.6 1030.5,761.7 1033.5,761.8 1036.5,761.9 1039.5,762.0 1042.5,762.1 1045.5,762.1 1048.5,762.2 1051.5,762.3 1054.6,762.4 1057.6,762.4 1060.6,762.5 1063.6,762.6 1066.6,762.6 1069.6,762.7 1072.6,762.8 1075.6,762.8 1078.6,762.9 1081.6,762.9 1084.6,763.0 1087.6,763.1 1090.6,763.1 1093.6,763.1 1096.6,763.2 1099.6,763.2 1102.6,763.3 1105.7,763.3 1108.7,763.4 1111.7,763.4 1114.7,763.4 1117.7,763.5 1120.7,763.5 1123.7,763.5 1126.7,763.6 1129.7,763.6 1132.7,763.6 1135.7,763.6 1138.7,763.7 1141.7,763.7 1144.7,763.7 1147.7,763.7 1150.7,763.7 1153.8,763.7 1156.8,763.8 1159.8,763.8 1162.8,763.8 1165.8,763.8 1168.8,763.8 1171.8,763.8 1174.8,763.8 1177.8,763.8 1180.8,763.8 1183.8,763.8 1186.8,763.8 1189.8,763.8"/>
<path stroke="#008000" d="M178.4,398.8L178.7,395.8 179.0,392.9 179.3,389.9 179.6,386.9 179.8,383.9 180.1,380.9 180.3,377.9 180.5,374.9 180.7,371.9 180.9,368.9 181.1,365.9 181.3,362.9 181.5,359.9 181.6,356.9 181.8,353.9 181.9,350.9 182.1,347.9 182.2,344.9 182.4,341.9 182.5,338.9 182.7,335.9 182.8,332.9 182.9,329.9 183.1,326.9 183.2,323.9 183.4,320.9 183.5,317.9 183.7,314.9 183.8,311.9 184.0,308.8 184.1,305.8 184.3,302.8 184.5,299.8 184.7,296.8 184.9,293.8 185.1,290.9 185.3,287.9 185.5,284.9 185.7,281.9 186.0,278.9 186.2,275.9 186.5,272.9 186.8,269.9 187.1,266.9 187.4,263.9 187.7,260.9 188.0,257.9 188.3,254.9 188.6,251.9 188.9,248.9 189.2,246.0 189.6,243.0 189.9,240.0 190.2,237.0 190.5,234.0 190.9,231.0 191.2,228.0 191.5,225.0 191.9,222.0 192.2,219.1 192.6,216.1 192.9,213.1 193.4,210.1 193.8,207.1 194.2,204.2 194.7,201.2 195.3,198.3 195.8,195.3 196.5,192.4 197.1,189.5 197.8,186.6 198.6,183.7 199.4,180.8 200.3,177.9 201.3,175.0 202.2,172.2 203.3,169.3 204.3,166.5 205.4,163.6 206.6,160.8 207.7,157.9 209.0,155.1 210.3,152.5 211.8,150.0 213.6,147.9 215.8,146.2 218.3,145.0 221.2,144.3 224.4,143.8 227.6,143.3 230.9,143.0 234.0,142.9 237.1,143.1 239.9,143.8 242.4,144.9 244.8,146.5 246.9,148.4 248.8,150.6 250.6,153.1 252.3,155.7 253.8,158.3 255.3,161.1 256.7,163.8 258.0,166.5 259.3,169.3 260.5,172.1 261.7,174.9 262.7,177.7 263.8,180.6 264.8,183.4 265.8,186.3 266.7,189.2 267.6,192.0 268.4,194.9 269.3,197.8 270.1,200.7 270.9,203.6 271.7,206.5 272.5,209.4 273.3,212.3 274.0,215.2 274.8,218.1 275.6,221.0 276.4,223.9 277.2,226.8 278.1,229.6 278.9,232.5 279.8,235.3 280.8,238.2 281.7,241.0 282.7,243.8 283.8,246.5 284.9,249.3 286.0,252.0 287.2,254.8 288.5,257.5 289.8,260.2 291.1,262.8 292.5,265.5 293.9,268.1 295.4,270.8 296.8,273.4 298.3,276.0 299.8,278.6 301.4,281.2 302.9,283.8 304.5,286.4 306.0,289.0 307.6,291.6 309.2,294.2 310.8,296.8 312.3,299.4 313.9,302.0 315.4,304.6 316.9,307.2 318.5,309.8 319.9,312.4 321.4,315.0 322.8,317.7 324.2,320.4 325.6,323.0 326.9,325.7 328.2,328.4 329.5,331.2 330.7,333.9 331.8,336.6 332.9,339.4 334.0,342.2 335.1,345.0 336.2,347.8 337.2,350.6 338.2,353.4 339.2,356.3 340.1,359.1 341.1,361.9 342.1,364.8 343.0,367.6 344.0,370.5 345.0,373.3 345.9,376.1 346.9,379.0 347.9,381.8 348.9,384.6 350.0,387.5 351.0,390.3 352.1,393.1 353.2,395.9 354.4,398.6 355.5,401.4 356.8,404.2 358.0,406.9 359.3,409.6 360.7,412.3 362.1,415.0 363.5,417.7 365.0,420.3 366.6,423.0 368.2,425.5 369.8,428.1 371.5,430.6 373.2,433.1 375.0,435.6 376.8,438.0 378.7,440.4 380.6,442.7 382.5,445.0 384.5,447.2 386.6,449.4 388.7,451.6 390.9,453.7 393.1,455.7 395.3,457.7 397.6,459.7 399.9,461.6 402.3,463.4 404.8,465.1 407.3,466.8 409.8,468.4 412.4,470.0 415.0,471.5 417.7,472.8 420.4,474.1 423.2,475.3 425.9,476.4 428.8,477.3 431.6,478.1 434.5,478.8 437.4,479.3 440.3,479.7 443.2,479.9 446.2,479.9 449.2,479.7 452.2,479.5 455.2,479.1 458.2,478.8 461.2,478.5 464.2,478.3 467.2,478.4 470.2,478.7 473.2,479.2 476.2,479.9 479.1,480.8 482.0,481.8 484.9,483.0 487.7,484.2 490.4,485.6 493.1,487.0 495.7,488.5 498.3,490.1 500.8,491.7 503.2,493.5 505.6,495.3 507.9,497.1 510.2,499.0 512.4,501.0 514.5,503.1 516.7,505.2 518.7,507.3 520.7,509.5 522.7,511.8 524.6,514.1 526.4,516.4 528.2,518.8 530.0,521.3 531.7,523.7 533.4,526.2 535.0,528.8 536.6,531.4 538.1,534.0 539.6,536.6 541.0,539.2 542.4,541.9 543.8,544.6 545.1,547.3 546.4,550.1 547.7,552.8 548.9,555.6 550.1,558.3 551.3,561.1 552.5,563.9 553.7,566.7 554.8,569.5 556.0,572.3 557.1,575.1 558.3,577.9 559.4,580.7 560.5,583.5 561.7,586.3 562.8,589.1 564.0,591.9 565.2,594.6 566.4,597.4 567.6,600.1 568.9,602.9 570.2,605.6 571.5,608.3 572.8,610.9 574.2,613.6 575.6,616.2 577.1,618.8 578.6,621.3 580.1,623.9 581.7,626.4 583.4,628.9 585.0,631.4 586.7,633.8 588.5,636.2 590.3,638.6 592.1,641.0 594.0,643.3 595.9,645.6 597.8,647.9 599.7,650.2 601.7,652.4 603.7,654.7 605.8,656.9 607.8,659.1 609.9,661.2 612.1,663.4 614.2,665.5 616.4,667.6 618.6,669.7 620.8,671.8 623.0,673.8 625.3,675.9 627.5,677.9 629.8,679.9 632.1,681.8 634.5,683.8 636.8,685.7 639.2,687.6 641.6,689.4 644.0,691.3 646.4,693.1 648.9,694.8 651.4,696.6 653.9,698.3 656.4,700.0 658.9,701.6 661.4,703.3 664.0,704.8 666.5,706.4 669.1,707.9 671.7,709.4 674.4,710.8 677.0,712.2 679.6,713.6 682.3,714.9 685.0,716.2 687.7,717.5 690.4,718.7 693.1,719.9 695.9,721.1 698.6,722.2 701.4,723.3 704.1,724.4 706.9,725.4 709.7,726.5 712.5,727.4 715.4,728.4 718.2,729.3 721.0,730.2 723.9,731.1 726.7,732.0 729.6,732.8 732.5,733.6 735.4,734.4 738.3,735.2 741.2,735.9 744.1,736.6 747.0,737.3 749.9,738.0 752.8,738.7 755.8,739.3 758.7,740.0 761.7,740.6 764.6,741.2 767.6,741.8 770.5,742.4 773.5,742.9 776.4,743.5 779.4,744.0 782.4,744.6 785.3,745.1 788.3,745.6 791.3,746.1 794.3,746.6 797.2,747.1 800.2,747.6 803.2,748.0 806.2,748.5 809.1,749.0 812.1,749.5 815.1,749.9 818.1,750.4 821.1,750.8 824.0,751.2 827.0,751.7 830.0,752.1 833.0,752.5 836.0,752.9 839.0,753.4 841.9,753.8 844.9,754.2 847.9,754.6 850.9,754.9 853.9,755.3 856.9,755.7 859.8,756.1 862.8,756.5 865.8,756.8 868.8,757.2 871.8,757.5 874.8,757.9 877.8,758.2 880.7,758.6 883.7,758.9 886.7,759.2 889.7,759.5 892.7,759.8 895.7,760.2 898.7,760.5 901.7,760.8 904.7,761.1 907.6,761.4 910.6,761.6 913.6,761.9 916.6,762.2 919.6,762.5 922.6,762.7 925.6,763.0 928.6,763.3 931.6,763.5 934.6,763.8 937.6,764.0 940.6,764.3 943.6,764.5 946.5,764.7 949.5,765.0 952.5,765.2 955.5,765.4 958.5,765.6 961.5,765.8 964.5,766.0 967.5,766.2 970.5,766.4 973.5,766.6 976.5,766.8 979.5,767.0 982.5,767.2 985.5,767.4 988.5,767.5 991.5,767.7 994.5,767.9 997.5,768.0 1000.5,768.2 1003.5,768.3 1006.5,768.5 1009.5,768.6 1012.5,768.8 1015.5,768.9 1018.5,769.0 1021.5,769.2 1024.5,769.3 1027.5,769.4 1030.5,769.5 1033.5,769.7 1036.5,769.8 1039.5,769.9 1042.5,770.0 1045.5,770.1 1048.5,770.2 1051.5,770.3 1054.5,770.4 1057.5,770.5 1060.5,770.5 1063.5,770.6 1066.5,770.7 1069.5,770.8 1072.5,770.9 1075.5,770.9 1078.5,771.0 1081.6,771.0 1084.6,771.1 1087.6,771.2 1090.6,771.2 1093.6,771.3 1096.6,771.3 1099.6,771.4 1102.6,771.4 1105.6,771.4 1108.6,771.5 1111.6,771.5 1114.6,771.5 1117.6,771.6 1120.6,771.6 1123.6,771.6 1126.6,771.6 1129.7,771.6 1132.7,771.7 1135.7,771.7 1138.7,771.7 1141.7,771.7 1144.7,771.7 1147.7,771.7 1150.7,771.7 1153.7,771.7 1156.7,771.7 1159.7,771.7 1162.7,771.7 1165.7,771.6 1168.8,771.6 1171.8,771.6 1174.8,771.6 1177.8,771.6 1180.8,771.6 1183.8,771.5 1186.8,771.5 1189.8,771.5"/>
</g>
<path stroke="#000000" stroke-width="9.5" d="M918,58.9 H1001"/>
<path stroke="#808000" stroke-width="9.5" d="M918,104.6 H1001"/>
<path stroke="#8000FF" stroke-width="9.5" d="M918,151.1 H1001"/>
<path stroke="#FF8000" stroke-width="9.5" d="M918,196.7 H1001"/>
<path stroke="#008000" stroke-width="9.5" d="M918,242.2 H1001"/>
<text transform="translate(153.5,788.5) scale(0.95,1)" font-size="36" text-anchor="end" font-family="Liberation Sans, sans-serif" font-weight="bold" fill="#000" xml:space="preserve">0.0</text>
<text transform="translate(153.5,695.2) scale(0.95,1)" font-size="36" text-anchor="end" font-family="Liberation Sans, sans-serif" font-weight="bold" fill="#000" xml:space="preserve">0.5</text>
<text transform="translate(153.5,602.0) scale(0.95,1)" font-size="36" text-anchor="end" font-family="Liberation Sans, sans-serif" font-weight="bold" fill="#000" xml:space="preserve">1.0</text>
<text transform="translate(153.5,508.7) scale(0.95,1)" font-size="36" text-anchor="end" font-family="Liberation Sans, sans-serif" font-weight="bold" fill="#000" xml:space="preserve">1.5</text>
<text transform="translate(153.5,415.5) scale(0.95,1)" font-size="36" text-anchor="end" font-family="Liberation Sans, sans-serif" font-weight="bold" fill="#000" xml:space="preserve">2.0</text>
<text transform="translate(153.5,322.2) scale(0.95,1)" font-size="36" text-anchor="end" font-family="Liberation Sans, sans-serif" font-weight="bold" fill="#000" xml:space="preserve">2.5</text>
<text transform="translate(153.5,229.0) scale(0.95,1)" font-size="36" text-anchor="end" font-family="Liberation Sans, sans-serif" font-weight="bold" fill="#000" xml:space="preserve">3.0</text>
<text transform="translate(153.5,135.7) scale(0.95,1)" font-size="36" text-anchor="end" font-family="Liberation Sans, sans-serif" font-weight="bold" fill="#000" xml:space="preserve">3.5</text>
<text transform="translate(153.5,42.5) scale(0.95,1)" font-size="36" text-anchor="end" font-family="Liberation Sans, sans-serif" font-weight="bold" fill="#000" xml:space="preserve">4.0</text>
<text transform="translate(178.4,832.2) scale(0.95,1)" font-size="36" text-anchor="middle" font-family="Liberation Sans, sans-serif" font-weight="bold" fill="#000" xml:space="preserve">200</text>
<text transform="translate(347.0,832.2) scale(0.95,1)" font-size="36" text-anchor="middle" font-family="Liberation Sans, sans-serif" font-weight="bold" fill="#000" xml:space="preserve">300</text>
<text transform="translate(515.5,832.2) scale(0.95,1)" font-size="36" text-anchor="middle" font-family="Liberation Sans, sans-serif" font-weight="bold" fill="#000" xml:space="preserve">400</text>
<text transform="translate(684.1,832.2) scale(0.95,1)" font-size="36" text-anchor="middle" font-family="Liberation Sans, sans-serif" font-weight="bold" fill="#000" xml:space="preserve">500</text>
<text transform="translate(852.7,832.2) scale(0.95,1)" font-size="36" text-anchor="middle" font-family="Liberation Sans, sans-serif" font-weight="bold" fill="#000" xml:space="preserve">600</text>
<text transform="translate(1021.2,832.2) scale(0.95,1)" font-size="36" text-anchor="middle" font-family="Liberation Sans, sans-serif" font-weight="bold" fill="#000" xml:space="preserve">700</text>
<text transform="translate(1189.8,832.2) scale(0.95,1)" font-size="36" text-anchor="middle" font-family="Liberation Sans, sans-serif" font-weight="bold" fill="#000" xml:space="preserve">800</text>
<text transform="translate(1010.0,72.0) scale(0.95,1)" font-size="36" text-anchor="start" letter-spacing="0.27" font-family="Liberation Sans, sans-serif" font-weight="bold" fill="#000" xml:space="preserve">0.2 <tspan font-family="Liberation Serif, serif" font-weight="normal" stroke="#000" stroke-width="0.8">μ</tspan>g/mL</text>
<text transform="translate(1010.0,117.7) scale(0.95,1)" font-size="36" text-anchor="start" letter-spacing="0.27" font-family="Liberation Sans, sans-serif" font-weight="bold" fill="#000" xml:space="preserve">0.4 <tspan font-family="Liberation Serif, serif" font-weight="normal" stroke="#000" stroke-width="0.8">μ</tspan>g/mL</text>
<text transform="translate(1010.0,164.2) scale(0.95,1)" font-size="36" text-anchor="start" letter-spacing="0.27" font-family="Liberation Sans, sans-serif" font-weight="bold" fill="#000" xml:space="preserve">0.6 <tspan font-family="Liberation Serif, serif" font-weight="normal" stroke="#000" stroke-width="0.8">μ</tspan>g/mL</text>
<text transform="translate(1010.0,209.8) scale(0.95,1)" font-size="36" text-anchor="start" letter-spacing="0.27" font-family="Liberation Sans, sans-serif" font-weight="bold" fill="#000" xml:space="preserve">0.8 <tspan font-family="Liberation Serif, serif" font-weight="normal" stroke="#000" stroke-width="0.8">μ</tspan>g/mL</text>
<text transform="translate(1010.0,255.3) scale(0.95,1)" font-size="36" text-anchor="start" letter-spacing="0.27" font-family="Liberation Sans, sans-serif" font-weight="bold" fill="#000" xml:space="preserve">1.0 <tspan font-family="Liberation Serif, serif" font-weight="normal" stroke="#000" stroke-width="0.8">μ</tspan>g/mL</text>
<text transform="translate(684.8,900.0)" font-size="40.5" text-anchor="middle" letter-spacing="1.0" font-family="Liberation Sans, sans-serif" font-weight="bold" fill="#000" xml:space="preserve">Wavelength (nm)</text>
<text transform="translate(49.6,414.3) rotate(-90)" font-size="43" text-anchor="middle" letter-spacing="0.1" font-family="Liberation Sans, sans-serif" font-weight="bold" fill="#000" xml:space="preserve">Absorbance (a.u.)</text>
</svg>
</body></html>
